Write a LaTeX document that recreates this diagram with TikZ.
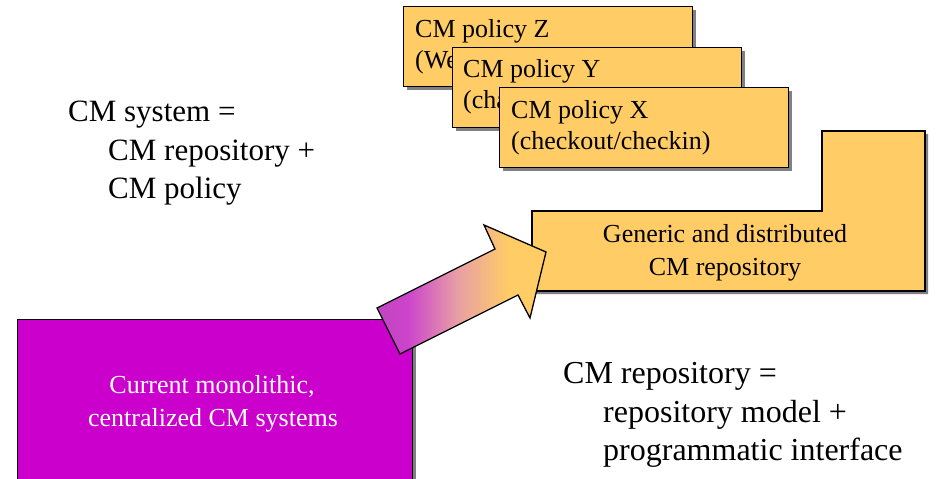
\documentclass[tikz,border=0pt]{standalone}
\usepackage{fontspec}
\setmainfont{Liberation Serif}
\usetikzlibrary{shadows}
\definecolor{boxorange}{HTML}{FFCC66}
\definecolor{boxmag}{HTML}{CC00CC}
\definecolor{shadowgray}{HTML}{808080}
\definecolor{arrA}{HTML}{C045C0}
\definecolor{arrB}{HTML}{CC44CC}
\definecolor{arrC}{HTML}{E8A0A4}
\pgfdeclarehorizontalshading{arrowshade}{100bp}{color(0bp)=(arrA); color(25bp)=(arrA); color(34bp)=(arrB); color(49bp)=(arrC); color(64bp)=(boxorange); color(100bp)=(boxorange)}
\begin{document}
\begin{tikzpicture}[x=1pt,y=-1pt,
  outl/.style={draw=black, line width=1.3pt},
  shad/.style={drop shadow={shadow xshift=3pt, shadow yshift=-3pt, fill=shadowgray, opacity=1}},
  pbox/.style={outl, shad, fill=boxorange, rectangle, anchor=north west, inner sep=0pt, minimum width=289pt, minimum height=80pt},
  bigtxt/.style={font=\fontsize{31}{37}\selectfont, anchor=base west, inner sep=0pt},
  bigtxtr/.style={font=\fontsize{32}{38}\selectfont, anchor=base west, inner sep=0pt},
  boxtxt/.style={font=\fontsize{26}{31}\selectfont, anchor=base west, inner sep=0pt},
  ctxt/.style={font=\fontsize{26}{31}\selectfont, anchor=base, inner sep=0pt}]
\useasboundingbox[fill=white] (0,0) rectangle (938,479);

% policy boxes
\node[pbox] (pz) at (403,6) {};
\node[boxtxt] (pz1) at (415,37) {CM policy Z};
\node[boxtxt] (pz2) at (415,68) {(We};
\node[pbox] (py) at (452,47) {};
\node[boxtxt] (py1) at (463,77) {CM policy Y};
\node[boxtxt] (py2) at (463,108) {(cha};
\node[pbox] (px) at (499,87) {};
\node[boxtxt] (px1) at (511,118) {CM policy X};
\node[boxtxt] (px2) at (511,149) {(checkout/checkin)};

% repository L shape
\path[outl, shad, fill=boxorange] (532,211) -- (822,211) -- (822,131) -- (925,131) -- (925,291) -- (532,291) -- cycle;
\node[ctxt] (rep1) at (725,242) {Generic and distributed};
\node[ctxt] (rep2) at (725,275) {CM repository};

% current systems box
\node[outl, shad, fill=boxmag, rectangle, anchor=north west, inner sep=0pt, minimum width=395pt, minimum height=175pt] (cur) at (17,319) {};
\node[ctxt, text=white] (cur1) at (212,393) {Current monolithic,};
\node[ctxt, text=white] (cur2) at (213,426) {centralized CM systems};

% arrow
\shadedraw[shading=arrowshade, draw=black, line width=1.3pt, line join=miter]
  (377,308) -- (400,354) -- (518,295) -- (530,318) -- (546,252) -- (484,225) -- (495,249) -- cycle;

% free text
\node[bigtxt] (s1) at (68,121) {CM system =};
\node[bigtxt] (s2) at (108,160) {CM repository +};
\node[bigtxt] (s3) at (108,198) {CM policy};
\node[bigtxtr] (r1) at (563,383) {CM repository =};
\node[bigtxtr] (r2) at (603,422) {repository model +};
\node[bigtxtr] (r3) at (603,460) {programmatic interface};
\end{tikzpicture}
\end{document}
